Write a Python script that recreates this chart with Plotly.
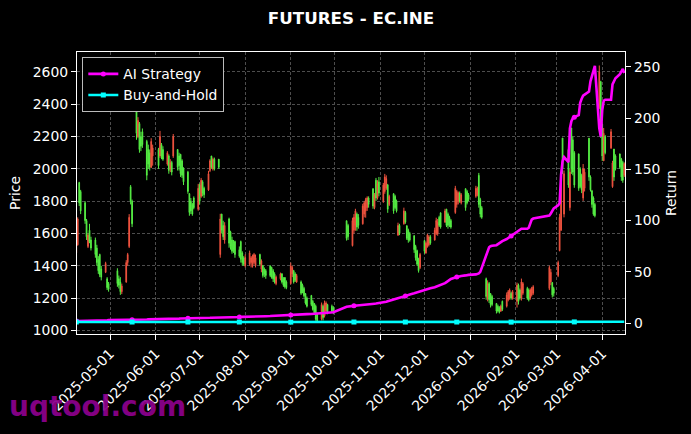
import pandas as pd
import plotly.graph_objects as go

# ---------------- data ----------------
start_date = "2025-04-08"
end_date = "2026-04-16"
holidays = ["2025-05-01", "2025-05-02", "2025-05-05", "2025-06-02",
            "2025-10-01", "2025-10-02", "2025-10-03", "2025-10-06", "2025-10-07", "2025-10-08",
            "2026-01-01", "2026-01-02",
            "2026-02-16", "2026-02-17", "2026-02-18", "2026-02-19", "2026-02-20", "2026-02-23",
            "2026-04-06"]

opens = [
    # Apr 2025
    1480, 1530, 1915, 1860, 1790, 1680, 1520, 1620, 1560, 1560, 1510, 1440, 1470, 1380, 1360, 1320, 1290,
    # May
    1370, 1320, 1300, 1240, 1300, 1420, 1520, 1890, 1800, 2380, 2200, 2280, 2200, 2230, 2170, 2120, 2100, 2010, 2080,
    # Jun
    2120, 2080, 2150, 2120, 2030, 2080, 2000, 2040, 2080, 2120, 2080, 2090, 2050, 2000, 1980, 1846, 1800, 1780, 1820, 1750,
    # Jul
    1900, 1830, 1920, 1880, 1870, 1990, 2080, 2000, 2060, 2060, 1470, 1720, 1650, 1560, 1690, 1610, 1560, 1540, 1550, 1500, 1550, 1480, 1450,
    # Aug
    1400, 1410, 1420, 1400, 1420, 1400, 1470, 1380, 1401, 1380, 1370, 1400, 1390, 1370, 1350, 1290, 1320, 1350, 1320, 1327, 1300,
    # Sep
    1290, 1350, 1370, 1350, 1300, 1300, 1280, 1260, 1228, 1200, 1216, 1180, 1167, 1150, 1100, 1070, 1150, 1090, 1120, 1160, 1150, 1140,
    # Oct
    1679, 1650, 1525, 1620, 1650, 1720, 1700, 1660, 1720, 1740, 1760, 1820, 1877, 1760, 1930, 1820, 1920,
    # Nov
    1800, 1860, 1880, 1900, 1780, 1846, 1830, 1800, 1590, 1650, 1660, 1730, 1648, 1620, 1600, 1586, 1520, 1494, 1440, 1390,
    # Dec
    1556, 1480, 1520, 1530, 1580, 1560, 1600, 1600, 1700, 1728, 1670, 1750, 1720, 1700, 1680, 1730, 1780, 1800, 1850, 1790, 1877, 1860, 1840,
    # Jan 2026
    1830, 1840, 1960, 1810, 1760, 1320, 1200, 1290, 1228, 1210, 1167, 1150, 1140, 1120, 1180, 1150, 1190, 1200, 1230, 1200,
    # Feb
    1180, 1280, 1250, 1200, 1230, 1260, 1250, 1200, 1220, 1230, 1260, 1300, 1296, 1260,
    # Mar
    1340, 1494, 1620, 2191, 1720, 2120, 1760, 2253, 2180, 2100, 2093, 2000, 1960, 1820, 1880, 2190, 1950, 1864, 1820, 1780, 2380, 2540,
    # Apr
    2278, 2050, 2200, 2130, 1890, 2123, 2080, 2093, 2060, 2040, 1960,
]
highs = [
    1560, 1700, 1920, 1870, 1800, 1690, 1600, 1660, 1580, 1575, 1530, 1460, 1475, 1400, 1425, 1330, 1300,
    1385, 1340, 1330, 1290, 1435, 1480, 1720, 1900, 1810, 2420, 2320, 2290, 2230, 2250, 2180, 2150, 2120, 2190, 2150,
    2130, 2235, 2160, 2140, 2110, 2090, 2060, 2050, 2216, 2123, 2100, 2093, 2060, 2010, 1988, 1850, 1820, 1790, 1830, 1907,
    1910, 1944, 1930, 1890, 1988, 2060, 2080, 2070, 2070, 2061, 1722, 1722, 1679, 1670, 1698, 1617, 1580, 1560, 1556, 1520, 1556, 1490, 1460,
    1470, 1494, 1460, 1470, 1480, 1470, 1475, 1440, 1405, 1390, 1380, 1401, 1395, 1380, 1360, 1340, 1358, 1355, 1330, 1330, 1310,
    1420, 1400, 1375, 1360, 1350, 1309, 1290, 1270, 1230, 1210, 1220, 1190, 1170, 1160, 1110, 1173, 1160, 1185, 1180, 1165, 1160, 1150,
    1680, 1660, 1698, 1720, 1753, 1730, 1720, 1784, 1800, 1821, 1830, 1830, 1880, 1850, 1944, 1930, 1950,
    1913, 1969, 1960, 1907, 1840, 1850, 1840, 1810, 1667, 1660, 1760, 1740, 1650, 1630, 1610, 1590, 1530, 1500, 1450, 1480,
    1560, 1550, 1598, 1590, 1590, 1636, 1698, 1690, 1710, 1730, 1753, 1753, 1730, 1710, 1690, 1895, 1870, 1860, 1860, 1850, 1880, 1870, 1850,
    1895, 1890, 1975, 1821, 1770, 1327, 1310, 1300, 1230, 1220, 1170, 1160, 1150, 1160, 1185, 1235, 1250, 1260, 1240, 1250,
    1296, 1290, 1260, 1321, 1300, 1270, 1260, 1260, 1270, 1280, 1401, 1380, 1300, 1270,
    1432, 1722, 1969, 2191, 1990, 2123, 2000, 2253, 2200, 2110, 2093, 2010, 1970, 2030, 2000, 2191, 1960, 1870, 1830, 1790, 2640, 2545,
    2278, 2253, 2210, 2247, 2050, 2123, 2090, 2093, 2068, 2050, 2040,
]
lows = [
    1460, 1525, 1770, 1720, 1660, 1560, 1510, 1540, 1495, 1450, 1400, 1350, 1330, 1310, 1355, 1250, 1240,
    1270, 1260, 1220, 1225, 1295, 1400, 1510, 1780, 1640, 2180, 2190, 2100, 2110, 2130, 1930, 2000, 1990, 2005, 2020,
    2000, 2068, 2060, 2050, 2020, 1970, 1980, 1960, 2068, 1990, 1990, 1950, 1944, 1900, 1846, 1710, 1720, 1710, 1750, 1741,
    1780, 1821, 1830, 1820, 1864, 1980, 2000, 1990, 1990, 2000, 1450, 1600, 1560, 1537, 1512, 1500, 1475, 1480, 1450, 1450, 1420, 1401, 1400,
    1390, 1400, 1390, 1389, 1410, 1390, 1401, 1360, 1327, 1330, 1320, 1330, 1320, 1300, 1290, 1280, 1310, 1290, 1270, 1259, 1255,
    1285, 1330, 1290, 1300, 1295, 1220, 1230, 1204, 1160, 1142, 1150, 1123, 1100, 1060, 1049, 1062, 1062, 1080, 1100, 1100, 1110, 1100,
    1556, 1560, 1520, 1600, 1617, 1617, 1630, 1655, 1700, 1698, 1740, 1760, 1753, 1750, 1802, 1810, 1830,
    1790, 1846, 1870, 1728, 1770, 1722, 1750, 1730, 1586, 1590, 1655, 1660, 1560, 1543, 1550, 1480, 1432, 1400, 1358, 1380,
    1475, 1475, 1512, 1520, 1530, 1556, 1590, 1586, 1640, 1630, 1667, 1640, 1630, 1640, 1630, 1722, 1760, 1780, 1790, 1780, 1741, 1780, 1800,
    1821, 1830, 1760, 1700, 1691, 1190, 1180, 1170, 1142, 1150, 1105, 1110, 1105, 1115, 1120, 1142, 1180, 1190, 1190, 1190,
    1142, 1160, 1190, 1185, 1220, 1190, 1180, 1190, 1210, 1220, 1250, 1280, 1204, 1210,
    1330, 1490, 1617, 1969, 1700, 1883, 1741, 1969, 1960, 1883, 1864, 1880, 1850, 1802, 1860, 1926, 1860, 1760, 1710, 1700, 2370, 2191,
    2049, 2049, 2090, 2123, 1883, 1926, 1990, 2000, 1926, 1914, 1950,
]
closes = [
    1540, 1690, 1790, 1740, 1680, 1580, 1590, 1550, 1510, 1470, 1420, 1370, 1345, 1330, 1415, 1265, 1255,
    1290, 1280, 1240, 1275, 1420, 1470, 1700, 1800, 1660, 2220, 2300, 2120, 2140, 2150, 1960, 2030, 2010, 2170, 2130,
    2020, 2200, 2080, 2060, 2100, 1990, 2040, 1980, 2200, 2010, 2020, 1970, 1960, 1920, 1860, 1730, 1740, 1720, 1760, 1880,
    1800, 1930, 1850, 1840, 1970, 2050, 2010, 2060, 2000, 2010, 1690, 1620, 1580, 1650, 1540, 1520, 1490, 1500, 1470, 1460, 1440, 1420, 1410,
    1450, 1480, 1450, 1460, 1470, 1450, 1410, 1430, 1340, 1350, 1340, 1340, 1330, 1320, 1300, 1330, 1350, 1300, 1280, 1270, 1265,
    1400, 1390, 1300, 1310, 1340, 1230, 1240, 1215, 1170, 1150, 1160, 1130, 1110, 1070, 1060, 1160, 1080, 1170, 1170, 1110, 1120, 1115,
    1570, 1580, 1680, 1700, 1740, 1640, 1650, 1770, 1790, 1810, 1820, 1780, 1770, 1840, 1820, 1910, 1850,
    1900, 1950, 1940, 1750, 1830, 1740, 1760, 1740, 1650, 1600, 1740, 1670, 1570, 1560, 1560, 1500, 1450, 1410, 1370, 1470,
    1490, 1540, 1590, 1580, 1540, 1620, 1680, 1670, 1650, 1640, 1740, 1650, 1650, 1660, 1640, 1880, 1860, 1850, 1800, 1840, 1760, 1790, 1810,
    1880, 1880, 1780, 1720, 1700, 1210, 1290, 1190, 1160, 1160, 1120, 1120, 1115, 1150, 1130, 1220, 1240, 1250, 1200, 1240,
    1280, 1180, 1200, 1300, 1290, 1200, 1190, 1250, 1260, 1270, 1390, 1360, 1220, 1230,
    1420, 1700, 1950, 2000, 1970, 1900, 1980, 2000, 1980, 1900, 1880, 1890, 1870, 2000, 1980, 1950, 1870, 1780, 1720, 1710, 2600, 2220,
    2080, 2220, 2100, 2230, 2037, 1950, 2000, 2010, 1950, 1930, 2030,
]
ai_return = [
    2.0, 2.0, 2.1, 2.1, 2.2, 2.2, 2.3, 2.3, 2.4, 2.4, 2.5, 2.5, 2.6, 2.6, 2.7, 2.7, 2.8,
    2.8, 2.9, 2.9, 3.0, 3.0, 3.1, 3.1, 3.2, 3.2, 3.3, 3.3, 3.4, 3.4, 3.5, 3.5, 3.6, 3.6, 3.7, 3.7,
    3.8, 3.8, 3.9, 3.9, 4.0, 4.0, 4.1, 4.1, 4.2, 4.3, 4.3, 4.4, 4.4, 4.5, 4.6, 4.6, 4.7, 4.7, 4.8, 4.8,
    4.9, 4.9, 5.0, 5.0, 5.1, 5.1, 5.2, 5.2, 5.3, 5.3, 5.4, 5.4, 5.5, 5.5, 5.6, 5.6, 5.7, 5.7, 5.8, 5.9, 5.9, 6.0, 6.0,
    6.1, 6.1, 6.2, 6.3, 6.3, 6.4, 6.5, 6.5, 6.6, 6.7, 6.7, 6.8, 6.9, 6.9, 7.0, 7.1, 7.2, 7.3, 7.4, 7.5, 7.6,
    7.8, 7.9, 8.0, 8.1, 8.2, 8.3, 8.4, 8.5, 8.6, 8.7, 8.8, 8.9, 9.0, 9.1, 9.2, 9.4, 9.6, 9.8, 10.0, 10.1, 10.3, 10.5,
    15.9, 16.2, 16.6, 16.8, 17.0, 17.2, 17.4, 17.7, 17.9, 18.1, 18.3, 18.5, 18.7, 18.9, 19.0, 19.2, 19.4,
    19.8, 20.3, 20.8, 21.3, 21.8, 22.6, 23.1, 23.6, 24.1, 24.6, 25.8, 26.4, 26.9, 27.4, 27.9, 29.0, 29.5, 30.0, 30.5, 31.0,
    32.0, 32.5, 33.0, 33.5, 34.0, 35.0, 35.5, 36.0, 36.5, 37.5, 39.0, 40.0, 41.0, 42.0, 43.0, 44.5, 45.0, 45.5, 46.0, 46.0, 46.5, 46.5, 47.0,
    47.5, 48.0, 48.5, 50.0, 54.0, 67.0, 72.0, 74.0, 75.0, 75.5, 76.0, 77.0, 78.0, 79.0, 80.0, 82.0, 83.0, 84.0, 85.0, 86.0,
    89.0, 90.0, 91.0, 92.0, 92.0, 92.0, 93.0, 97.0, 101.0, 102.0, 105.0, 107.0, 110.0, 112.0,
    115, 117, 145, 158, 162, 157, 190, 197, 200, 201, 203, 215, 219, 222, 223, 226, 236, 241, 246, 251, 190, 182,
    208, 217, 218, 218, 233, 236, 239, 243, 246, 248, 244,
]
bh_return = [
    1.0, 1.0, 1.1, 1.0, 1.0, 1.0, 1.0, 1.0, 1.0, 1.0, 0.9, 0.9, 0.9, 0.9, 0.9, 0.9, 0.9,
    0.9, 0.9, 0.9, 0.9, 0.9, 0.9, 1.0, 1.0, 1.0, 1.1, 1.1, 1.1, 1.1, 1.1, 1.0, 1.0, 1.0, 1.1, 1.1,
    1.0, 1.1, 1.1, 1.1, 1.1, 1.0, 1.1, 1.0, 1.1, 1.0, 1.0, 1.0, 1.0, 1.0, 1.0, 1.0, 1.0, 1.0, 1.0, 1.0,
    1.0, 1.0, 1.0, 1.0, 1.0, 1.1, 1.0, 1.1, 1.0, 1.0, 1.0, 1.0, 1.0, 1.0, 1.0, 1.0, 1.0, 1.0, 1.0, 1.0, 1.0, 0.9, 0.9,
    0.9, 0.9, 0.9, 0.9, 0.9, 0.9, 0.9, 0.9, 0.9, 0.9, 0.9, 0.9, 0.9, 0.9, 0.9, 0.9, 0.9, 0.9, 0.9, 0.9, 0.9,
    0.9, 0.9, 0.9, 0.9, 0.9, 0.9, 0.9, 0.9, 0.9, 0.9, 0.9, 0.9, 0.9, 0.9, 0.9, 0.9, 0.9, 0.9, 0.9, 0.9, 0.9, 0.9,
    1.0, 1.0, 1.0, 1.0, 1.0, 1.0, 1.0, 1.0, 1.0, 1.0, 1.0, 1.0, 1.0, 1.0, 1.0, 1.0, 1.0,
    1.0, 1.0, 1.0, 1.0, 1.0, 1.0, 1.0, 1.0, 1.0, 1.0, 1.0, 1.0, 1.0, 1.0, 1.0, 1.0, 0.9, 0.9, 0.9, 0.9,
    1.0, 1.0, 1.0, 1.0, 1.0, 1.0, 1.0, 1.0, 1.0, 1.0, 1.0, 1.0, 1.0, 1.0, 1.0, 1.0, 1.0, 1.0, 1.0, 1.0, 1.0, 1.0, 1.0,
    1.0, 1.0, 1.0, 1.0, 1.0, 0.9, 0.9, 0.9, 0.9, 0.9, 0.9, 0.9, 0.9, 0.9, 0.9, 0.9, 0.9, 0.9, 0.9, 0.9,
    0.9, 0.9, 0.9, 0.9, 0.9, 0.9, 0.9, 0.9, 0.9, 0.9, 1.0, 1.0, 0.9, 0.9,
    1.0, 1.0, 1.1, 1.1, 1.1, 1.1, 1.1, 1.1, 1.1, 1.1, 1.1, 1.1, 1.1, 1.1, 1.1, 1.1, 1.1, 1.1, 1.1, 1.1, 1.2, 1.2,
    1.2, 1.2, 1.2, 1.2, 1.2, 1.2, 1.2, 1.2, 1.2, 1.2, 1.2,
]
month_ticks = ["2025-05-01", "2025-06-01", "2025-07-01", "2025-08-01", "2025-09-01", "2025-10-01",
               "2025-11-01", "2025-12-01", "2026-01-01", "2026-02-01", "2026-03-01", "2026-04-01"]
price_ticks = [1000, 1200, 1400, 1600, 1800, 2000, 2200, 2400, 2600]
return_ticks = [0, 50, 100, 150, 200, 250]

# ---------------- build ----------------
dates = [d for d in pd.bdate_range(start_date, end_date) if d.strftime("%Y-%m-%d") not in holidays]
n = len(dates)
assert n == len(opens) == len(highs) == len(lows) == len(closes) == len(ai_return) == len(bh_return), (
    n, len(opens), len(highs), len(lows), len(closes), len(ai_return), len(bh_return))

RED = "#F0533F"
GREEN = "#55EE44"
MAGENTA = "#FF00FF"
CYAN = "#00FFFF"
MARK_EVERY = 25

ai_mcolors = [MAGENTA if i % MARK_EVERY == 0 else "rgba(0,0,0,0)" for i in range(n)]
bh_mcolors = [CYAN if i % MARK_EVERY == 0 else "rgba(0,0,0,0)" for i in range(n)]

fig = go.Figure()
fig.add_trace(go.Candlestick(
    x=dates, open=opens, high=highs, low=lows, close=closes,
    increasing=dict(line=dict(color=RED, width=1), fillcolor=RED),
    decreasing=dict(line=dict(color=GREEN, width=1), fillcolor=GREEN),
    whiskerwidth=0, showlegend=False, yaxis="y", name="EC.INE"))
fig.add_trace(go.Scatter(
    x=dates, y=ai_return, mode="lines+markers", name="AI Strategy", yaxis="y2",
    line=dict(color=MAGENTA, width=2.6),
    marker=dict(symbol="circle", size=5, color=ai_mcolors, line=dict(width=0))))
fig.add_trace(go.Scatter(
    x=dates, y=bh_return, mode="lines+markers", name="Buy-and-Hold", yaxis="y2",
    line=dict(color=CYAN, width=2.6),
    marker=dict(symbol="square", size=5, color=bh_mcolors, line=dict(width=0))))

FONT = "DejaVu Sans"
GRID = "#4d4d4d"
axis_common = dict(showline=True, linecolor="white", linewidth=1.2,
                   ticks="outside", ticklen=5, tickwidth=1, tickcolor="white",
                   tickfont=dict(family=FONT, size=13.9, color="white"), zeroline=False)

fig.update_layout(
    width=691, height=434,
    margin=dict(l=77, r=66, t=52, b=100),
    paper_bgcolor="black", plot_bgcolor="black",
    font=dict(family=FONT, size=13.9, color="white"),
    title=dict(text="<b>FUTURES - EC.INE</b>", x=0.5, xref="paper", xanchor="center",
               y=1 - 18 / 434, yref="container", yanchor="middle",
               font=dict(family=FONT, size=16.7, color="white")),
    xaxis=dict(type="date", range=["2025-04-08 12:00", "2026-04-16 12:00"],
               tickvals=month_ticks, ticktext=month_ticks, tickangle=-45,
               showgrid=True, gridcolor=GRID, gridwidth=0.8, griddash="3px,2px",
               mirror=True, rangeslider=dict(visible=False), **axis_common),
    yaxis=dict(range=[978, 2723.5], tickvals=price_ticks,
               showgrid=True, gridcolor=GRID, gridwidth=0.8, griddash="3px,2px",
               mirror=True,
               title=dict(text="Price", standoff=8, font=dict(family=FONT, size=13.9, color="white")),
               **axis_common),
    yaxis2=dict(overlaying="y", side="right", range=[-10.7, 264.6], tickvals=return_ticks,
                showgrid=False,
                title=dict(text="Return", standoff=6, font=dict(family=FONT, size=13.9, color="white")),
                **axis_common),
    legend=dict(x=0.0097, y=0.981, xanchor="left", yanchor="top",
                bgcolor="black", bordercolor="rgba(220,220,220,0.85)", borderwidth=1,
                font=dict(family=FONT, size=13.9, color="white"), itemwidth=30,
                tracegroupgap=2),
    showlegend=True,
    annotations=[dict(text="<b>uqtool.com</b>", xref="paper", yref="paper",
                      x=(97.5 - 77) / 548, y=(334 - 407) / 282,
                      xanchor="center", yanchor="middle", showarrow=False,
                      font=dict(family=FONT, size=28, color="rgba(139,0,139,0.95)"))],
)

fig.write_html("out.html",
               config={"displayModeBar": False},
               post_script="document.body.style.margin='0';document.body.style.overflow='hidden';")
